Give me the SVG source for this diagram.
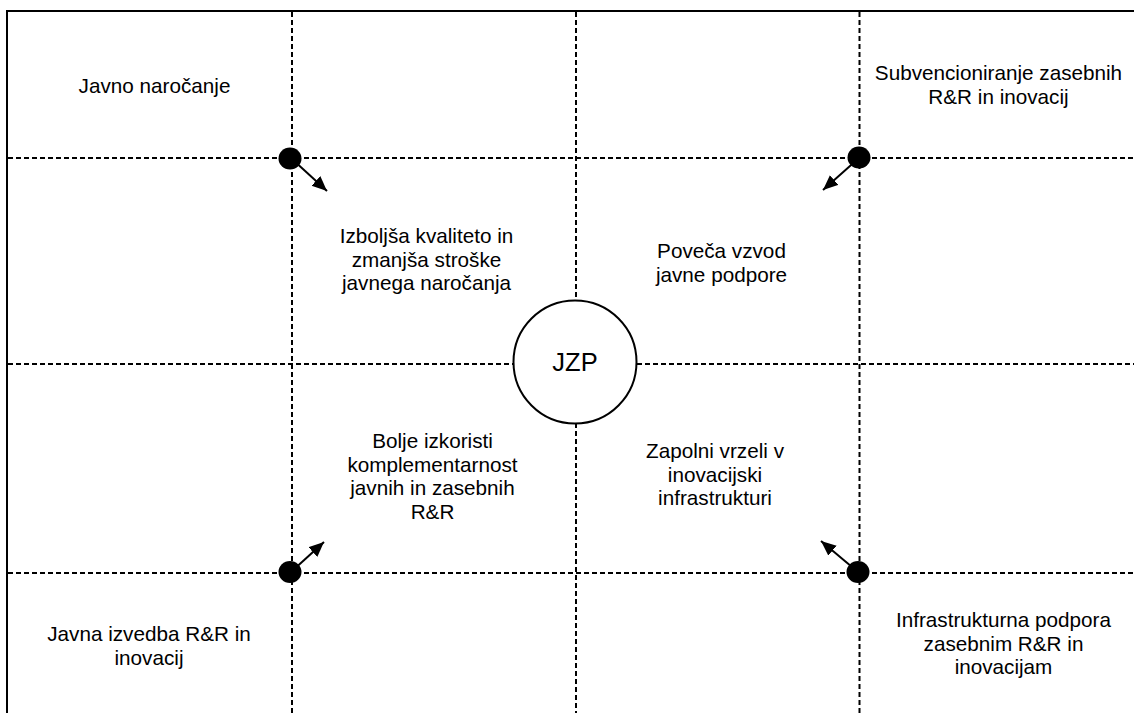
<svg xmlns="http://www.w3.org/2000/svg" width="1134" height="713" viewBox="0 0 1134 713">
  <style>
    .frame { stroke: #000; stroke-width: 2; fill: none; }
    .grid { stroke: #000; stroke-width: 2; stroke-dasharray: 5 3; fill: none; }
    .dot { fill: #000; }
    .arrow { stroke: #000; stroke-width: 2; fill: none; marker-end: url(#head); }
    .hub { fill: #fff; stroke: #000; stroke-width: 2; }
    text { font-family: "Liberation Sans", Arial, sans-serif; font-size: 20.7px; fill: #000; text-anchor: middle; }
    .hub-label { font-size: 25.5px; }
  </style>
  <defs>
    <marker id="head" markerUnits="userSpaceOnUse" markerWidth="16" markerHeight="14" refX="15" refY="6.5" orient="auto">
      <path d="M0,0 L15,6.5 L0,13 Z" fill="#000"/>
    </marker>
  </defs>

  <!-- outer frame: top and left edges -->
  <g id="frame">
    <line class="frame" x1="6" y1="11" x2="1134" y2="11"/>
    <line class="frame" x1="7" y1="10" x2="7" y2="713"/>
  </g>

  <!-- dashed grid -->
  <g id="grid">
    <line class="grid" x1="292" y1="12" x2="292" y2="713"/>
    <line class="grid" x1="859.5" y1="12" x2="859.5" y2="713"/>
    <line class="grid" x1="576" y1="12" x2="576" y2="301"/>
    <line class="grid" x1="576" y1="423" x2="576" y2="713"/>
    <line class="grid" x1="8" y1="158" x2="1134" y2="158"/>
    <line class="grid" x1="8" y1="573" x2="1134" y2="573"/>
    <line class="grid" x1="8" y1="364" x2="513" y2="364"/>
    <line class="grid" x1="637" y1="364" x2="1134" y2="364"/>
  </g>

  <!-- connectors from corner dots -->
  <g id="connectors">
    <line class="arrow" x1="292" y1="159" x2="327" y2="191"/>
    <line class="arrow" x1="859" y1="158" x2="823" y2="190"/>
    <line class="arrow" x1="291" y1="572" x2="324" y2="542"/>
    <line class="arrow" x1="858" y1="572" x2="821" y2="541"/>
  </g>

  <g id="dot-tl"><ellipse class="dot" cx="290" cy="158.5" rx="11.5" ry="11"/></g>
  <g id="dot-tr"><ellipse class="dot" cx="859" cy="157.5" rx="11.5" ry="11"/></g>
  <g id="dot-bl"><ellipse class="dot" cx="290" cy="572" rx="11.5" ry="11"/></g>
  <g id="dot-br"><ellipse class="dot" cx="858" cy="572" rx="11.5" ry="11"/></g>

  <g id="hub">
    <circle class="hub" cx="575" cy="362" r="61.5"/>
    <text class="hub-label" x="575" y="371">JZP</text>
  </g>

  <g id="javno-narocanje">
    <text x="154.5" y="93">Javno naročanje</text>
  </g>

  <g id="subvencioniranje">
    <text x="998.5" y="80">Subvencioniranje zasebnih</text>
    <text x="998.5" y="103.5">R&amp;R in inovacij</text>
  </g>

  <g id="izboljsa">
    <text x="426.5" y="243">Izboljša kvaliteto in</text>
    <text x="426.5" y="266.5">zmanjša stroške</text>
    <text x="426.5" y="290">javnega naročanja</text>
  </g>

  <g id="poveca">
    <text x="721.5" y="258">Poveča vzvod</text>
    <text x="721.5" y="281.5">javne podpore</text>
  </g>

  <g id="bolje">
    <text x="432.5" y="448">Bolje izkoristi</text>
    <text x="432.5" y="471.5">komplementarnost</text>
    <text x="432.5" y="495">javnih in zasebnih</text>
    <text x="432.5" y="518.5">R&amp;R</text>
  </g>

  <g id="zapolni">
    <text x="715" y="458">Zapolni vrzeli v</text>
    <text x="715" y="481.5">inovacijski</text>
    <text x="715" y="505">infrastrukturi</text>
  </g>

  <g id="javna-izvedba">
    <text x="149" y="641">Javna izvedba R&amp;R in</text>
    <text x="149" y="664.5">inovacij</text>
  </g>

  <g id="infrastrukturna">
    <text x="1003.5" y="627">Infrastrukturna podpora</text>
    <text x="1003.5" y="650.5">zasebnim R&amp;R in</text>
    <text x="1003.5" y="674">inovacijam</text>
  </g>
</svg>
